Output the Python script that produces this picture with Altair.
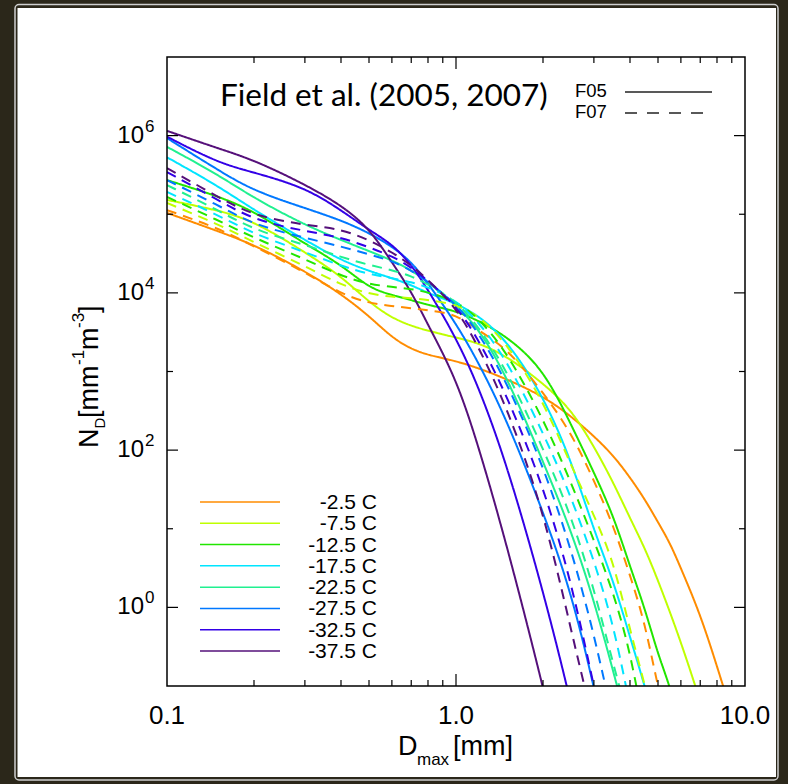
import altair as alt
import pandas as pd

# ---------------- data ----------------
D_MM = [0.1, 0.15, 0.2, 0.3, 0.4, 0.5, 0.6, 0.7, 0.8, 1.0, 1.2, 1.5, 2.0,
        2.5, 3.0, 3.5, 4.0, 4.5, 5.0, 5.5, 6.0, 7.0, 8.0, 9.0]

TEMPS = ["-2.5 C", "-7.5 C", "-12.5 C", "-17.5 C",
         "-22.5 C", "-27.5 C", "-32.5 C", "-37.5 C"]
COLORS = ["#ff8c00", "#bfff00", "#22e600", "#00e5ff",
          "#20f090", "#0078ff", "#3300e6", "#55107a"]

# Field et al. (2005) -- solid
f05_m2_5 = [1.04e5, 6.1e4, 4.1e4, 1.9e4, 9.7e3, 5.1e3, 2.7e3, 1.93e3, 1.62e3, 1.36e3, 1.1e3, 800, 487,
            271, 151, 86, 45, 23.8, 12.1, 6.6, 3.15, 0.82, 0.179, 0.044]
f05_m7_5 = [1.52e5, 1.13e5, 8.2e4, 3.3e4, 1.64e4, 7.6e3, 4.8e3, 3.8e3, 3.3e3, 2.7e3, 2.3e3, 1.57e3, 711,
            333, 112, 39, 13.6, 5.7, 2.2, 0.87, 0.36, 0.066, 0.0115]
f05_m12_5 = [2.72e5, 1.7e5, 1.1e5, 4.2e4, 2.3e4, 1.15e4, 9.4e3, 8.1e3, 7.0e3, 5.9e3, 4.4e3, 2.8e3, 1.1e3,
             214, 52, 14.9, 3.3, 0.98, 0.25, 0.1, 0.029]
f05_m17_5 = [5.3e5, 2.3e5, 1.13e5, 4.7e4, 2.6e4, 1.9e4, 1.54e4, 1.26e4, 9.9e3, 7.4e3, 5.1e3, 2.5e3, 500,
             75, 9.6, 2.2, 0.42, 0.1, 0.024]
f05_m22_5 = [7.2e5, 3.2e5, 1.6e5, 7.3e4, 4.7e4, 3.4e4, 2.6e4, 1.95e4, 1.37e4, 7.0e3, 3.5e3, 870, 72,
             9.6, 1.24, 0.154, 0.024]
f05_m27_5 = [9.3e5, 3.65e5, 1.97e5, 1.2e5, 8.4e4, 5.8e4, 3.9e4, 2.5e4, 1.33e4, 4.1e3, 1.28e3, 241, 16.7,
             1.6, 0.1, 0.007]
f05_m32_5 = [9.7e5, 4.5e5, 3.4e5, 2.2e5, 1.13e5, 6.3e4, 4.2e4, 2.3e4, 1.1e4, 2.7e3, 630, 66, 1.66,
             0.063, 0.003]
f05_m37_5 = [1.15e6, 6.9e5, 4.9e5, 2.4e5, 1.31e5, 6.7e4, 2.45e4, 1.05e4, 3.9e3, 830, 109, 6.2, 0.1,
             0.003]

# Field et al. (2007) -- dashed
f07_m2_5 = [1.13e5, 6.7e4, 3.9e4, 1.84e4, 9.7e3, 7.4e3, 6.8e3, 6.4e3, 6.0e3, 5.4e3, 3.27e3, 1.99e3, 547,
            169, 41.5, 11.1, 2.57, 0.649, 0.0937, 0.0237]
f07_m7_5 = [1.39e5, 7.5e4, 4.4e4, 2.2e4, 1.26e4, 9.7e3, 8.9e3, 8.6e3, 8.1e3, 7.2e3, 5.07e3, 2.3e3, 432,
            64.4, 14.9, 3.99, 0.513, 0.105, 0.0204]
f07_m12_5 = [1.66e5, 8.4e4, 5.0e4, 2.7e4, 1.64e4, 1.29e4, 1.19e4, 1.12e4, 1.02e4, 7.9e3, 4.78e3, 1.77e3, 255,
             39.2, 7.16, 1.56, 0.285, 0.0266]
f07_m17_5 = [1.92e5, 9.8e4, 5.6e4, 3.3e4, 2.2e4, 1.73e4, 1.54e4, 1.37e4, 1.19e4, 8.1e3, 4.25e3, 1.4e3, 169,
             26.0, 3.99, 0.63, 0.0553]
f07_m22_5 = [2.35e5, 1.13e5, 6.3e4, 4.1e4, 2.85e4, 2.26e4, 1.95e4, 1.64e4, 1.29e4, 7.9e3, 3.67e3, 1.04e3, 106,
             14.9, 1.75, 0.189, 0.0317]
f07_m27_5 = [2.72e5, 1.31e5, 7.3e4, 5.0e4, 3.9e4, 3.1e4, 2.54e4, 1.95e4, 1.37e4, 7.4e3, 3.08e3, 733, 64.4,
             5.66, 0.47, 0.0356]
f07_m32_5 = [3.44e5, 1.52e5, 8.4e4, 6.1e4, 5.1e4, 3.8e4, 2.94e4, 2.13e4, 1.41e4, 7.0e3, 2.51e3, 501, 35.9,
             2.22, 0.1, 0.0071]
f07_m37_5 = [3.87e5, 1.66e5, 9.5e4, 7.3e4, 6.5e4, 4.7e4, 3.3e4, 2.26e4, 1.46e4, 6.6e3, 2.04e3, 352, 18.3,
             0.513, 0.0317]

F05 = [f05_m2_5, f05_m7_5, f05_m12_5, f05_m17_5, f05_m22_5, f05_m27_5, f05_m32_5, f05_m37_5]
F07 = [f07_m2_5, f07_m7_5, f07_m12_5, f07_m17_5, f07_m22_5, f07_m27_5, f07_m32_5, f07_m37_5]

X_LABEL_VALUES = [0.1, 1.0, 10.0]
X_LABELS = ["0.1", "1.0", "10.0"]
X_MAJOR = [1.0]
X_MINOR = [0.2, 0.3, 0.4, 0.5, 0.6, 0.7, 0.8, 0.9, 2, 3, 4, 5, 6, 7, 8, 9]
Y_MAJOR = [1, 1e2, 1e4, 1e6]
Y_MAJOR_EXP = ["0", "2", "4", "6"]
Y_MINOR = [10, 1e3, 1e5]

# ---------------- tables ----------------
rows = []
for name, group in (("F05", F05), ("F07", F07)):
    for temp, vals in zip(TEMPS, group):
        for d, n in zip(D_MM, vals):
            rows.append({"D": d, "N": n, "T": temp, "P": name})
df = pd.DataFrame(rows)

W, H = 578, 629
FONT = "Liberation Sans"
one = pd.DataFrame({"a": [0]})

xs = alt.Scale(type="log", domain=[0.1, 10], nice=False)
ys = alt.Scale(type="log", domain=[0.1, 1e7], nice=False)
cs = alt.Scale(domain=TEMPS, range=COLORS)

# ---------------- panel ----------------
panel_border = alt.Chart(one).mark_rect(fill=None, stroke="#cfcfcf", strokeWidth=1.5, cornerRadius=4).encode(
    x=alt.value(-152), x2=alt.value(611), y=alt.value(-52.5), y2=alt.value(723))
panel = alt.Chart(one).mark_rect(fill="white").encode(
    x=alt.value(-149.5), x2=alt.value(609), y=alt.value(-49), y2=alt.value(720))
frame = alt.Chart(one).mark_rect(fill=None, stroke="black", strokeWidth=1.5).encode(
    x=alt.value(0), x2=alt.value(W), y=alt.value(0), y2=alt.value(H))

# ---------------- curves ----------------
curves = alt.Chart(df).mark_line(clip=True, strokeWidth=2, interpolate="basis").encode(
    x=alt.X("D:Q", scale=xs, axis=None),
    y=alt.Y("N:Q", scale=ys, axis=None),
    color=alt.Color("T:N", scale=cs, legend=None),
    strokeDash=alt.StrokeDash("P:N", scale=alt.Scale(domain=["F05", "F07"], range=[[1, 0], [10, 7]]),
                              legend=None),
)

# ---------------- inward ticks ----------------
def xticks(vals, length):
    d = pd.DataFrame({"v": vals})
    base = alt.Chart(d).mark_rule(color="black", strokeWidth=1.2)
    xe = alt.X("v:Q", scale=xs, axis=None)
    return [base.encode(x=xe, y=alt.value(H), y2=alt.value(H - length)),
            base.encode(x=xe, y=alt.value(0), y2=alt.value(length))]


def yticks(vals, length):
    d = pd.DataFrame({"v": vals})
    base = alt.Chart(d).mark_rule(color="black", strokeWidth=1.2)
    ye = alt.Y("v:Q", scale=ys, axis=None)
    return [base.encode(y=ye, x=alt.value(0), x2=alt.value(length)),
            base.encode(y=ye, x=alt.value(W), x2=alt.value(W - length))]


ticks = xticks(X_MAJOR, 12) + xticks(X_MINOR, 6) + yticks(Y_MAJOR, 11) + yticks(Y_MINOR, 6)

# ---------------- tick labels ----------------
xlab_df = pd.DataFrame({"v": X_LABEL_VALUES, "t": X_LABELS})
xlab = alt.Chart(xlab_df).mark_text(align="center", baseline="alphabetic", font=FONT, fontSize=26,
                                    color="black").encode(
    x=alt.X("v:Q", scale=xs, axis=None), y=alt.value(H + 38), text="t:N")

ylab_df = pd.DataFrame({"v": Y_MAJOR, "e": Y_MAJOR_EXP})
ylab_base = alt.Chart(ylab_df)
ylab_ten = ylab_base.mark_text(align="right", baseline="middle", font="Liberation Sans Narrow, Liberation Sans",
                               fontSize=24, color="black").encode(
    y=alt.Y("v:Q", scale=ys, axis=None), x=alt.value(-23), text=alt.value("10"))
ylab_exp = ylab_base.mark_text(align="left", baseline="middle", font="Liberation Sans Narrow, Liberation Sans",
                               fontSize=17, dy=-9, color="black").encode(
    y=alt.Y("v:Q", scale=ys, axis=None), x=alt.value(-22), text="e:N")

# ---------------- axis titles ----------------
def txt(s, x, y, size, angle=0, font=FONT, align="left", baseline="alphabetic"):
    kw = dict(text=s, font=font, fontSize=size, align=align, baseline=baseline, color="black")
    if angle:
        kw["angle"] = angle
    return alt.Chart(one).mark_text(**kw).encode(x=alt.value(x), y=alt.value(y))


xtitle = [txt("D", 231, 698, 27), txt("max", 250, 708, 17), txt("[mm]", 286, 698, 27)]
ytitle = [
    txt("N", -69, 391, 27, angle=270),
    txt("D", -62, 371.5, 15, angle=270),
    txt("[mm", -69, 361, 27, angle=270),
    txt("-1", -83, 308, 17, angle=270),
    txt("m", -69, 293, 27, angle=270),
    txt("-3", -83, 271, 17, angle=270),
    txt("]", -69, 256, 27, angle=270),
]

# ---------------- annotations ----------------
title = txt("Field et al. (2005, 2007)", 53, 49, 31.5, font="Lato")
f05_lab = txt("F05", 408, 40, 18.5)
f07_lab = txt("F07", 408, 61, 18.5)
f05_line = alt.Chart(one).mark_rule(color="#222", strokeWidth=1.5).encode(
    x=alt.value(458), x2=alt.value(545), y=alt.value(35))
f07_line = alt.Chart(one).mark_rule(color="#222", strokeWidth=1.5, strokeDash=[12, 10]).encode(
    x=alt.value(458), x2=alt.value(545), y=alt.value(56))

# ---------------- temperature legend ----------------
leg_df = pd.DataFrame({"T": TEMPS})
ly = alt.Y("T:N", sort=TEMPS, scale=alt.Scale(type="point", range=[445, 594], padding=0), axis=None)
leg_lines = alt.Chart(leg_df).mark_rule(strokeWidth=1.5).encode(
    y=ly, x=alt.value(33), x2=alt.value(113), color=alt.Color("T:N", scale=cs, legend=None))
leg_text = alt.Chart(leg_df).mark_text(align="right", baseline="middle", font=FONT, fontSize=21, dy=1,
                                       color="black").encode(
    y=ly, x=alt.value(210), text="T:N")

chart = alt.layer(
    panel_border, panel, curves, frame, *ticks, xlab, ylab_ten, ylab_exp, *xtitle, *ytitle,
    title, f05_lab, f07_lab, f05_line, f07_line, leg_lines, leg_text
).resolve_scale(y="independent").properties(
    width=W, height=H,
    padding={"left": 167, "top": 57, "right": 43, "bottom": 98},
    autosize=alt.AutoSizeParams(type="none"),
    background="#2b271a",
).configure_view(stroke=None, fill="white")

chart.save("out.html", embed_options={"renderer": "svg", "actions": False})
